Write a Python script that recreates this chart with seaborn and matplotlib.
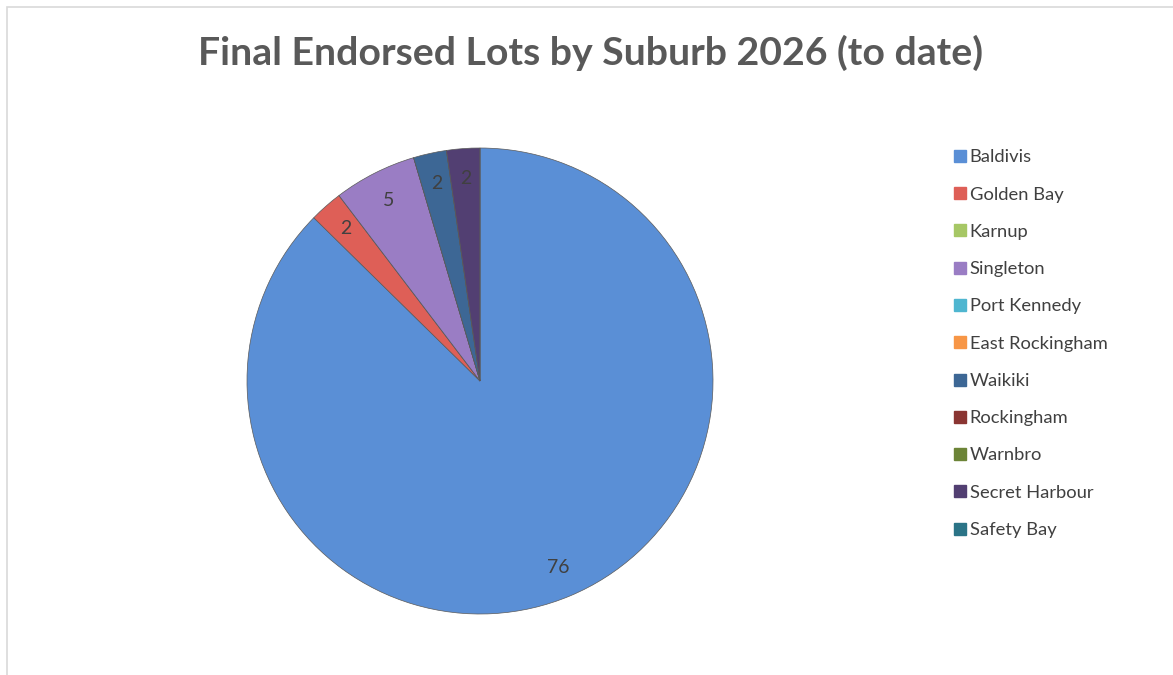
import matplotlib
matplotlib.use("Agg")
import matplotlib.pyplot as plt
import seaborn as sns
from matplotlib.patches import Rectangle
from matplotlib.lines import Line2D

suburbs = ["Baldivis", "Golden Bay", "Karnup", "Singleton", "Port Kennedy",
           "East Rockingham", "Waikiki", "Rockingham", "Warnbro",
           "Secret Harbour", "Safety Bay"]
lots = [76, 2, 0, 5, 0, 0, 2, 0, 0, 2, 0]
colors = ["#5A8FD6", "#DE5F57", "#A6C765", "#9A7DC4", "#4FB6D0",
          "#F79646", "#3D6795", "#8A3532", "#6C8437", "#523F72", "#2B7487"]
title = "Final Endorsed Lots by Suburb 2026 (to date)"

sns.set_theme(style="white")
plt.rcParams["font.family"] = ["Lato", "DejaVu Sans"]

fig = plt.figure(figsize=(11.73, 6.75), dpi=100)
fig.patch.set_facecolor("white")
# chart frame
fig.add_artist(Rectangle((7 / 1173, -0.1), 1.2, (675 - 7) / 675 + 0.1,
                         transform=fig.transFigure, fill=False,
                         edgecolor="#D9D9D9", linewidth=1.2))

ax = fig.add_axes([247 / 1173, (675 - 614) / 675, 466 / 1173, 466 / 675])
wedges, texts, autotexts = ax.pie(
    lots, colors=colors, startangle=90, counterclock=False,
    autopct=lambda p: f"{p * sum(lots) / 100:.0f}" if p > 0 else "",
    pctdistance=0.87, radius=1.0,
    wedgeprops=dict(edgecolor="#5A5A5A", linewidth=0.5),
    textprops=dict(color="#404040", fontsize=14))
for w in wedges:
    w.set_clip_on(False)
ax.set_xlim(-1, 1)
ax.set_ylim(-1, 1)
ax.set_aspect("equal")
ax.axis("off")

fig.text(591 / 1173, 1 - 53 / 675, title, ha="center", va="center",
         fontsize=28.3, fontweight="bold", color="#595959")

handles = [Line2D([0], [0], marker="s", linestyle="none", markersize=9,
                  markerfacecolor=c, markeredgecolor=c) for c in colors]
fig.legend(handles, suburbs, loc="upper left",
           bbox_to_anchor=(943 / 1173, 1 - 142 / 675), frameon=False,
           fontsize=13.2, labelcolor="#404040", handletextpad=0.05,
           labelspacing=1.16, handlelength=1.0, borderaxespad=0)

fig.savefig("out.png", dpi=100, facecolor="white")
